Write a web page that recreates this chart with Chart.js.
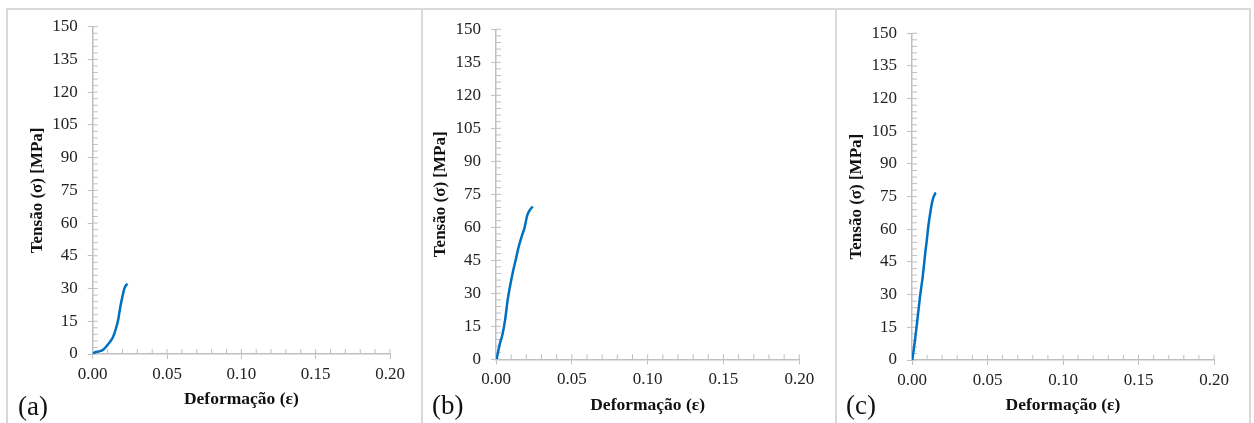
<!DOCTYPE html>
<html>
<head>
<meta charset="utf-8">
<script src="https://cdn.jsdelivr.net/npm/chart.js@4.4.0/dist/chart.umd.min.js"></script>
<style>
    body { margin: 0; background: #fff; width: 1254px; height: 423px; overflow: hidden; position: relative; font-family: 'Liberation Serif', serif; }
    .frame { position: absolute; left: 6px; top: 8px; width: 1241px; height: 430px; border: 2px solid #d9d9d9; border-bottom: none; }
    .divider { position: absolute; top: 8px; width: 2px; height: 430px; background: #d9d9d9; }
    canvas { position: absolute; }
    .tag { position: absolute; font-size: 27px; line-height: 1; color: #111; }
</style>
</head>
<body>
<div class="frame"></div>
<div class="divider" style="left:421px"></div>
<div class="divider" style="left:835px"></div>
<canvas id="chartA"></canvas>
<canvas id="chartB"></canvas>
<canvas id="chartC"></canvas>
<div class="tag" style="left:18px;top:393px">(a)</div>
<div class="tag" style="left:432px;top:392px">(b)</div>
<div class="tag" style="left:846px;top:392px">(c)</div>

<script>
// deformação (ε) e tensão (σ, MPa)
const strainA = [0, 0.0016, 0.0038, 0.0072, 0.0105, 0.0135, 0.0157, 0.0173, 0.0186, 0.0200, 0.0213, 0.0229, 0.0234];
const stressA = [0, 0.8, 1.1, 2.1, 4.6, 7.6, 11.8, 16.3, 21.7, 26.3, 30.0, 31.9, 32.2];

const strainB = [0.0004, 0.0026, 0.0042, 0.0060, 0.0077, 0.0092, 0.0114, 0.0130, 0.0147, 0.0169, 0.0187, 0.0207, 0.0224, 0.0242];
const stressB = [0, 7.3, 11.0, 17.9, 27.0, 33.0, 40.6, 45.2, 50.5, 55.8, 59.5, 65.6, 67.9, 69.5];

const strainC = [0.0002, 0.0020, 0.0038, 0.0053, 0.0071, 0.0090, 0.0097, 0.0108, 0.0124, 0.0137, 0.0155, 0.0159];
const stressC = [0, 9.2, 19.9, 29.1, 38.3, 50.5, 54.4, 61.3, 68.9, 73.5, 76.6, 76.8];

const xTickValues = [0, 0.05, 0.10, 0.15, 0.20];
const xTickLabels = ['0.00', '0.05', '0.10', '0.15', '0.20'];
const yTickValues = [0, 15, 30, 45, 60, 75, 90, 105, 120, 135, 150];
const yTickLabels = ['0', '15', '30', '45', '60', '75', '90', '105', '120', '135', '150'];
const xMinorStep = 0.01;
const yMinorStep = 3;

const xTitle = 'Deformação (ε)';
const yTitle = 'Tensão (σ) [MPa]';

const axisColor = '#bfbfbf';
const lineColor = '#0070C0';

// posição da área do gráfico na página (px)
const panels = [
    { id: 'chartA', strain: strainA, stress: stressA, left: 92.7, top: 26.7, right: 390, bottom: 354 },
    { id: 'chartB', strain: strainB, stress: stressB, left: 496, top: 29.3, right: 799.3, bottom: 359.3 },
    { id: 'chartC', strain: strainC, stress: stressC, left: 912, top: 33.3, right: 1214, bottom: 360 }
];

const innerTicks = {
    id: 'innerTicks',
    beforeDatasetsDraw(chart) {
        const { ctx, chartArea, scales: { x, y } } = chart;
        ctx.save();
        ctx.strokeStyle = axisColor;
        ctx.lineWidth = 1;
        ctx.beginPath();
        for (let i = 0; i * yMinorStep <= 150; i++) {
            const py = y.getPixelForValue(i * yMinorStep);
            ctx.moveTo(chartArea.left, py);
            ctx.lineTo(chartArea.left + 5, py);
        }
        for (let i = 0; i * xMinorStep <= 0.2 + 1e-9; i++) {
            const px = x.getPixelForValue(i * xMinorStep);
            ctx.moveTo(px, chartArea.bottom);
            ctx.lineTo(px, chartArea.bottom - 5);
        }
        ctx.stroke();
        ctx.restore();
    }
};

panels.forEach(p => {
    const canvas = document.getElementById(p.id);
    const cl = Math.round(p.left) - 84;
    const ct = 10;
    const w = Math.round(p.right) + 30 - cl;
    const h = 413;
    canvas.width = w;
    canvas.height = h;
    canvas.style.left = cl + 'px';
    canvas.style.top = ct + 'px';

    const yw = p.left - cl;
    const xh = (ct + h) - p.bottom;

    new Chart(canvas.getContext('2d'), {
        type: 'scatter',
        data: {
            datasets: [{
                data: p.strain.map((v, i) => ({ x: v, y: p.stress[i] })),
                showLine: true,
                borderColor: lineColor,
                borderWidth: 2.5,
                pointRadius: 0,
                cubicInterpolationMode: 'monotone'
            }]
        },
        options: {
            responsive: false,
            animation: false,
            devicePixelRatio: 1,
            layout: { padding: { left: 0, top: p.top - ct, right: cl + w - p.right, bottom: 0 } },
            plugins: { legend: { display: false }, tooltip: { enabled: false } },
            scales: {
                x: {
                    type: 'linear',
                    min: 0,
                    max: 0.2,
                    afterBuildTicks: s => { s.ticks = xTickValues.map(v => ({ value: v })); },
                    afterFit: s => { s.height = xh; s.paddingLeft = 0; s.paddingRight = 0; },
                    ticks: {
                        callback: (v, i) => xTickLabels[i],
                        font: { family: 'Liberation Serif', size: 17 },
                        color: '#222',
                        padding: 5,
                        maxRotation: 0
                    },
                    grid: { drawOnChartArea: false, drawTicks: true, tickLength: 5, color: axisColor, lineWidth: 1 },
                    border: { color: axisColor, width: 1.5 },
                    title: {
                        display: true,
                        text: xTitle,
                        font: { family: 'Liberation Serif', size: 17.5, weight: 'bold' },
                        color: '#111',
                        padding: { top: 0, bottom: 366.8 - p.bottom }
                    }
                },
                y: {
                    type: 'linear',
                    min: 0,
                    max: 150,
                    afterBuildTicks: s => { s.ticks = yTickValues.map(v => ({ value: v })); },
                    afterFit: s => { s.width = yw; s.paddingTop = 0; s.paddingBottom = 0; },
                    ticks: {
                        callback: (v, i) => yTickLabels[i],
                        font: { family: 'Liberation Serif', size: 17 },
                        color: '#222',
                        padding: 10
                    },
                    grid: { drawOnChartArea: false, drawTicks: true, tickLength: 5, color: axisColor, lineWidth: 1 },
                    border: { color: axisColor, width: 1.5 },
                    title: {
                        display: true,
                        text: yTitle,
                        font: { family: 'Liberation Serif', size: 17, weight: 'bold' },
                        color: '#111',
                        padding: { top: 18.3, bottom: 0 }
                    }
                }
            }
        },
        plugins: [innerTicks]
    });
});
</script>
</body>
</html>
